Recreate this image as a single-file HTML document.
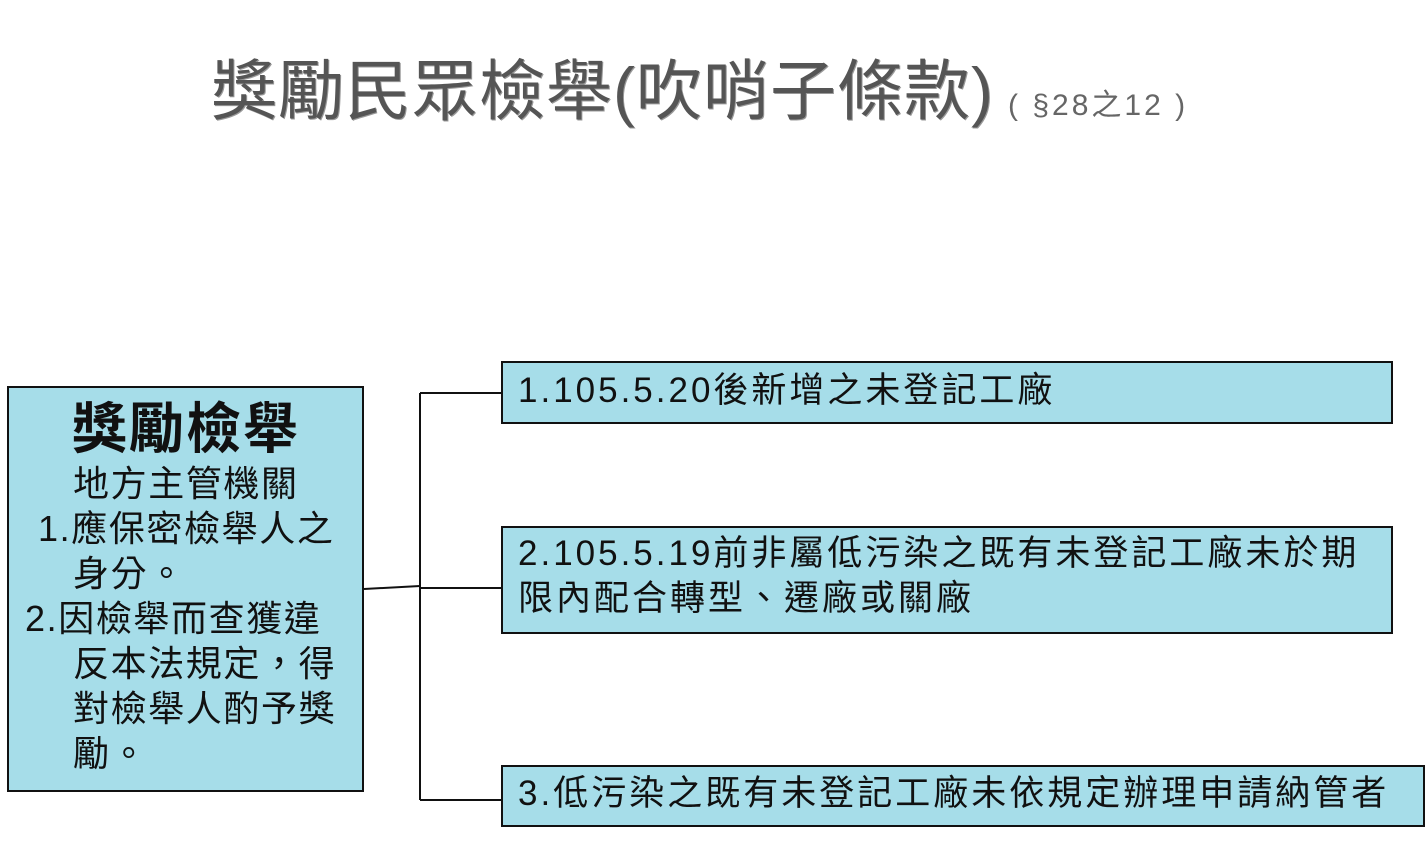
<!DOCTYPE html>
<html><head><meta charset="utf-8"><style>
body{margin:0;width:1425px;height:843px;background:#fff;position:relative;overflow:hidden;font-family:"Liberation Sans","Noto Sans CJK TC",sans-serif;}
.a{position:absolute;white-space:nowrap;}
.box{position:absolute;background:#a6dde9;border:2px solid #111;box-sizing:border-box;}
.t{font-size:35px;color:#111;line-height:45px;letter-spacing:3px;}
.l{font-size:36px;color:#111;line-height:45px;letter-spacing:1.6px;}
</style></head><body>
<div class="a" style="left:211px;top:38px;font-size:66px;color:#555;letter-spacing:1px;text-shadow:1px 1px 0 #999;">獎勵民眾檢舉(吹哨子條款)</div>
<div class="a" style="left:1008px;top:80px;font-size:30px;color:#666;letter-spacing:3px;">( §28之12 )</div>

<div class="box" style="left:7px;top:386px;width:357px;height:406px;"></div>
<div class="a" style="left:72px;top:384px;font-size:55px;font-weight:bold;color:#111;letter-spacing:2px;">獎勵檢舉</div>
<div class="a l" style="left:73px;top:461px;">地方主管機關</div>
<div class="a l" style="left:38px;top:506px;">1.應保密檢舉人之</div>
<div class="a l" style="left:73px;top:551px;">身分。</div>
<div class="a l" style="left:25px;top:596px;">2.因檢舉而查獲違</div>
<div class="a l" style="left:73px;top:641px;">反本法規定，得</div>
<div class="a l" style="left:73px;top:686px;">對檢舉人酌予獎</div>
<div class="a l" style="left:73px;top:731px;">勵。</div>

<svg class="a" style="left:0;top:0" width="1425" height="843">
<g stroke="#111" stroke-width="2" fill="none">
<path d="M364 589 L420 586"/>
<path d="M420 393 V800"/>
<path d="M420 393 H502 M420 588 H502 M420 800 H502"/>
</g></svg>

<div class="box" style="left:501px;top:361px;width:892px;height:63px;"></div>
<div class="a t" style="left:518px;top:368px;">1.105.5.20後新增之未登記工廠</div>

<div class="box" style="left:501px;top:526px;width:892px;height:108px;"></div>
<div class="a t" style="left:518px;top:531px;">2.105.5.19前非屬低污染之既有未登記工廠未於期</div>
<div class="a t" style="left:518px;top:576px;">限內配合轉型、遷廠或關廠</div>

<div class="box" style="left:501px;top:765px;width:924px;height:62px;"></div>
<div class="a t" style="left:518px;top:771px;">3.低污染之既有未登記工廠未依規定辦理申請納管者</div>
</body></html>
